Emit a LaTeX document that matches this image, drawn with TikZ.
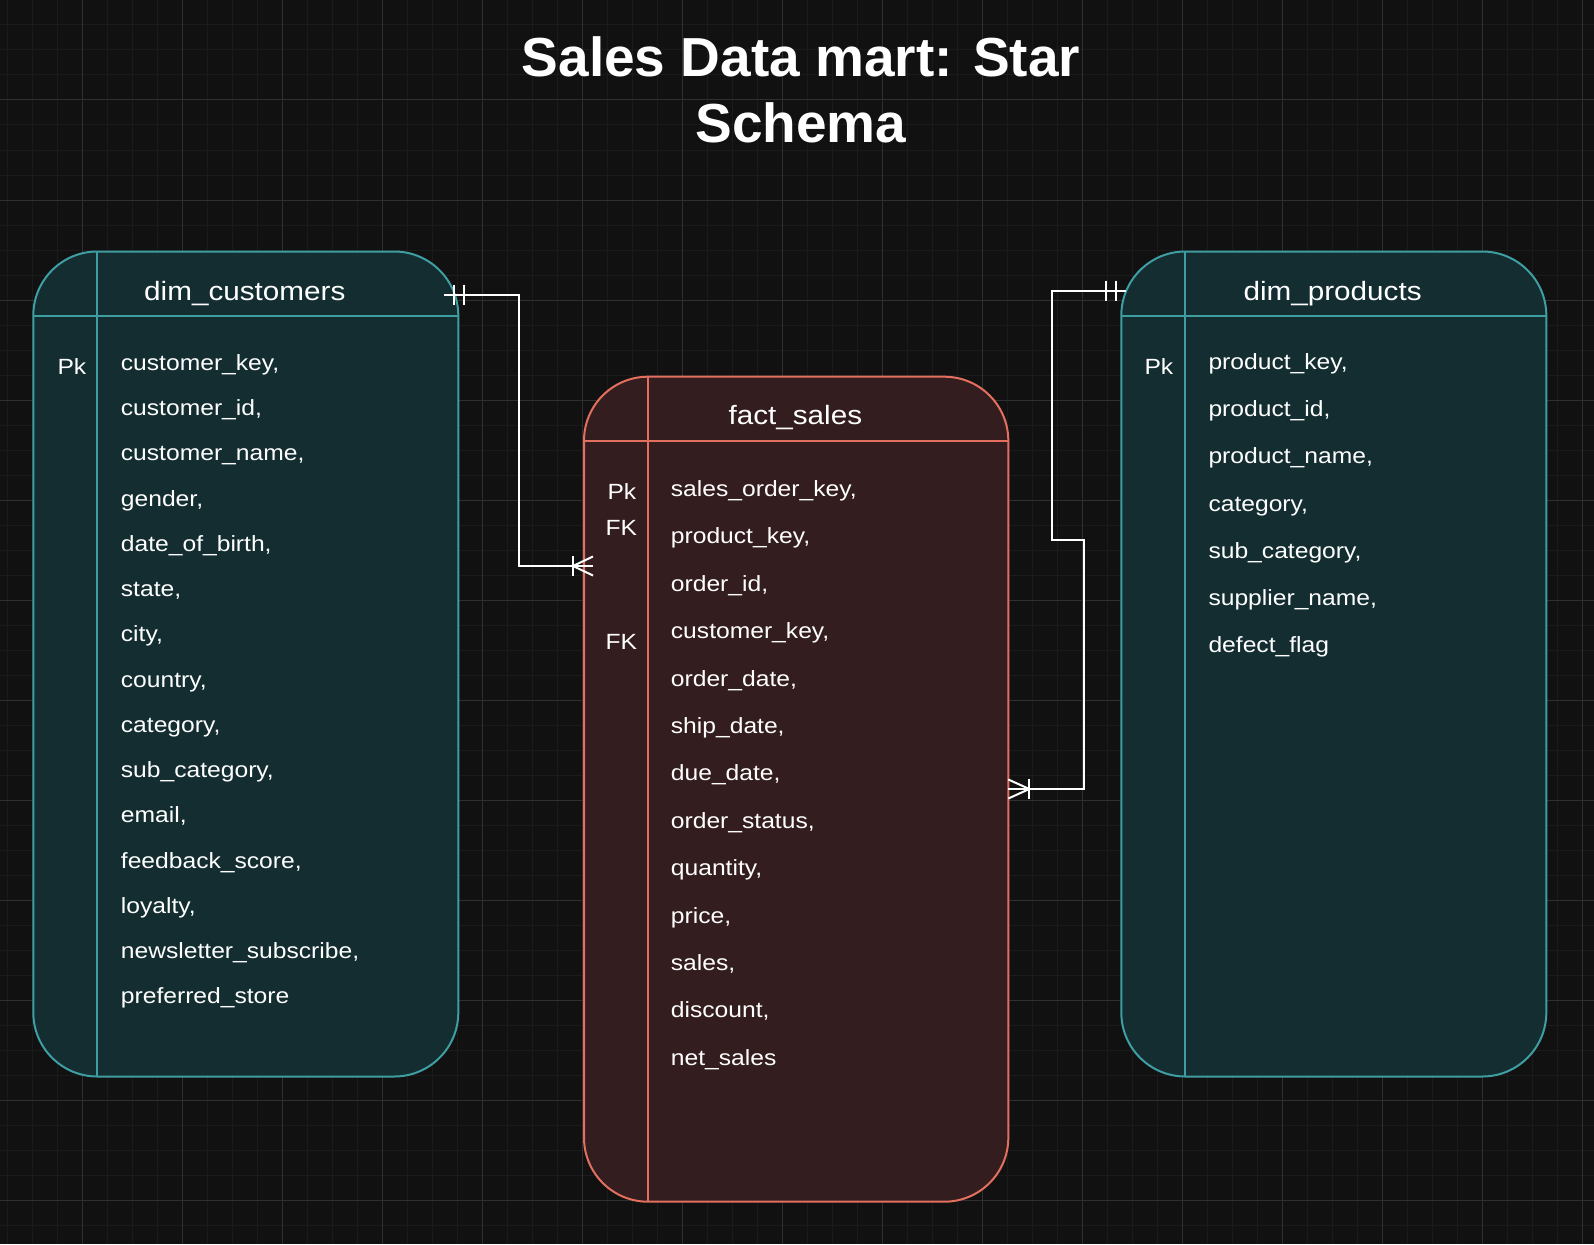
\documentclass[tikz,border=0pt]{standalone}
\usepackage{fontspec}
\setmainfont{Liberation Sans}
\newfontfamily\fieldfont[FakeStretch=1.12]{Liberation Sans}
\usetikzlibrary{calc}
\definecolor{bgc}{HTML}{111111}
\definecolor{gridminor}{HTML}{1B1B1B}
\definecolor{gridmajor}{HTML}{303030}
\definecolor{tealline}{HTML}{3F9EA1}
\definecolor{tealfill}{HTML}{132D31}
\definecolor{redline}{HTML}{E3705F}
\definecolor{redfill}{HTML}{341D1E}
\begin{document}
\begin{tikzpicture}[x=1pt,y=-1pt,
  tbl/.style={line width=2pt, rounded corners=64pt, inner sep=0pt, outer sep=0pt,
    minimum height=825pt, anchor=north west},
  tealtbl/.style={tbl, draw=tealline, fill=tealfill, minimum width=425pt},
  redtbl/.style={tbl, draw=redline, fill=redfill, minimum width=424.3pt},
  fieldtxt/.style={font=\fieldfont\fontsize{22}{26}\selectfont, text=white, anchor=base west, inner sep=0pt},
  keytxt/.style={font=\fieldfont\fontsize{22}{26}\selectfont, text=white, anchor=base west, inner sep=0pt},
  hdrtxt/.style={font=\fieldfont\fontsize{26.5}{30}\selectfont, text=white, anchor=base west, inner sep=0pt},
  titletxt/.style={font=\bfseries\fontsize{55}{66}\selectfont, text=white, align=center, anchor=base, inner sep=0pt},
  conn/.style={draw=white, line width=2pt},
]
\useasboundingbox (0,0) rectangle (1594,1244);
\fill[bgc] (0,0) rectangle (1594,1244);
% grid
\foreach \x in {7,32,...,1594} \draw[gridminor, line width=1pt] (\x,0) -- (\x,1244);
\foreach \y in {0,25,...,1244} \draw[gridminor, line width=1pt] (0,\y) -- (1594,\y);
\foreach \x in {82,182,...,1594} \draw[gridmajor, line width=1pt] (\x,0) -- (\x,1244);
\foreach \y in {0,100,...,1244} \draw[gridmajor, line width=1pt] (0,\y) -- (1594,\y);

% title (base anchor = baseline of last line)
\node[titletxt] (title) at (801,142.5) {Sales Data mart: Star\\Schema};

% tables
\node[tealtbl] (cust) at (33.3,251.5) {};
\node[redtbl] (fact) at (584,376.7) {};
\node[tealtbl] (prod) at (1121.3,251.5) {};

\foreach \t/\c in {cust/tealline, prod/tealline, fact/redline}{
  \draw[\c, line width=2pt] ($(\t.north west)+(0,64.2)$) -- ($(\t.north east)+(0,64.2)$);
  \draw[\c, line width=2pt] ($(\t.north west)+(64,0)$) -- ($(\t.south west)+(64,0)$);
}

% headers
\node[hdrtxt] (custh) at (144,300) {dim\_customers};
\node[hdrtxt] (facth) at (728.3,424) {fact\_sales};
\node[hdrtxt] (prodh) at (1243.3,300) {dim\_products};

% keys
\node[keytxt] (custpk) at (57.3,374.3) {Pk};
\node[keytxt] (factpk) at (607.3,499.3) {Pk};
\node[keytxt] (factfk1) at (605.3,535.7) {FK};
\node[keytxt] (factfk2) at (605.3,649) {FK};
\node[keytxt] (prodpk) at (1144.3,374.3) {Pk};

% fields
\foreach \t [count=\i from 0] in {{customer\_key,},{customer\_id,},{customer\_name,},{gender,},{date\_of\_birth,},{state,},{city,},{country,},{category,},{sub\_category,},{email,},{feedback\_score,},{loyalty,},{newsletter\_subscribe,},{preferred\_store}}
  \node[fieldtxt] (custf\i) at (120.7,{370.5+45.24*\i}) {\t};
\foreach \t [count=\i from 0] in {{sales\_order\_key,},{product\_key,},{order\_id,},{customer\_key,},{order\_date,},{ship\_date,},{due\_date,},{order\_status,},{quantity,},{price,},{sales,},{discount,},{net\_sales}}
  \node[fieldtxt] (factf\i) at (670.7,{496.5+47.4*\i}) {\t};
\foreach \t [count=\i from 0] in {{product\_key,},{product\_id,},{product\_name,},{category,},{sub\_category,},{supplier\_name,},{defect\_flag}}
  \node[fieldtxt] (prodf\i) at (1208.3,{369.5+47.2*\i}) {\t};

% connector customers -> fact_sales
\coordinate (cportA) at ($(cust.north east)+(-14,43)$);
\coordinate (fportA) at ($(fact.north west)+(9,189.3)$);
\draw[conn] (cportA) -- ++(74.5,0) |- (fportA);
\draw[conn] ($(cust.north east)+(-4,33)$) -- ++(0,20);
\draw[conn] ($(cust.north east)+(6,33)$) -- ++(0,20);
\draw[conn] ($(fportA)+(-20,-10)$) -- ++(0,20);
\draw[conn] ($(fportA)+(0,-9.5)$) -- ($(fportA)+(-20,0)$) -- ($(fportA)+(0,9.5)$);

% connector products -> fact_sales
\coordinate (pportB) at ($(prod.north west)+(5,39)$);
\coordinate (fportB) at ($(fact.north east)+(0,412.3)$);
\draw[conn] (pportB) -- (1052,290.5) |- (1084,540) |- (fportB);
\draw[conn] ($(pportB)+(-20,-10)$) -- ++(0,20);
\draw[conn] ($(pportB)+(-10,-10)$) -- ++(0,20);
\draw[conn] ($(fportB)+(21,-10)$) -- ++(0,20);
\draw[conn] ($(fportB)+(0,-9.5)$) -- ($(fportB)+(21,0)$) -- ($(fportB)+(0,9.5)$);
\end{tikzpicture}
\end{document}
